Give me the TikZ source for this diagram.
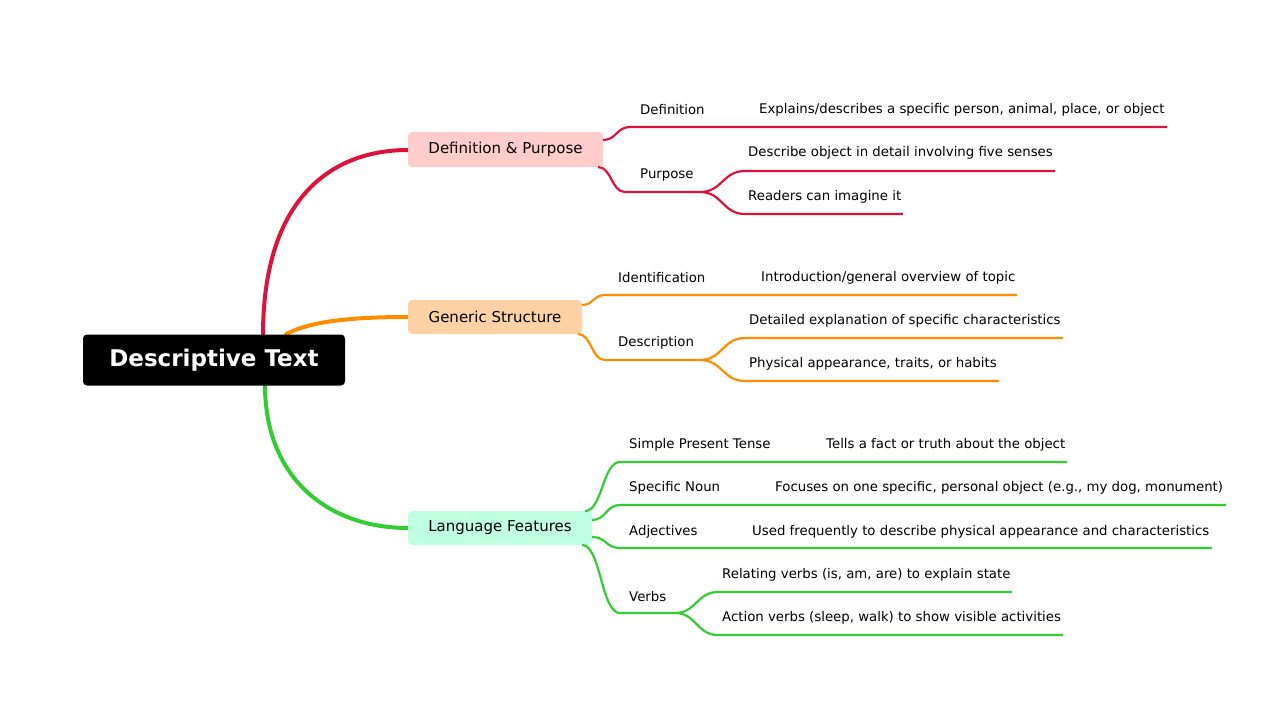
\documentclass[tikz,border=0pt]{standalone}
\usepackage{fontspec}
\setmainfont{DejaVu Sans}
\newcommand\hcv[4]{(#1,#2) .. controls ({(#1+#3)/2},#2) and ({(#1+#3)/2},#4) .. (#3,#4)}
\begin{document}
\begin{tikzpicture}[x=1pt,y=-1pt,
 lab/.style={anchor=west,inner sep=0pt,font=\fontsize{13.3}{15}\selectfont},
 box/.style={rounded corners=4pt,inner sep=0pt,font=\fontsize{15}{17}\selectfont},
 main/.style={line width=4pt},
 sub/.style={line width=2.2pt}]
\useasboundingbox (0,0) rectangle (1280,720);
\definecolor{cR}{HTML}{DC143C}\definecolor{cO}{HTML}{FF8C00}\definecolor{cG}{HTML}{32CD32}
\coordinate (r1) at (263,335);\coordinate (r2) at (285,335);\coordinate (r3) at (265,385);
\draw[main,cR] (r1) .. controls (263,200) and (330,150) .. (408,150);
\draw[main,cO] (r2) .. controls (310,320) and (360,317) .. (408,317);
\draw[main,cG] (r3) .. controls (265,480) and (330,528) .. (408,528);
\node[box,fill=black,text=white,minimum width=262pt,minimum height=51pt,font=\fontsize{23}{26}\selectfont\bfseries] (root) at (214,360) {Descriptive Text};
\node[box,fill=red!20,minimum width=195pt,minimum height=35pt] (b1) at (505.5,149.5) {Definition \& Purpose};
\node[box,fill=orange!35,minimum width=174pt,minimum height=34pt] (b2) at (495,317) {Generic Structure};
\node[box,fill=green!45!cyan!25,minimum width=184pt,minimum height=34pt] (b3) at (500,528) {Language Features};
\begin{scope}[sub,cR]
\draw \hcv{603}{140}{630}{127} -- (1167,127);
\draw \hcv{598}{167}{625}{192} -- (700,192);
\draw \hcv{700}{192}{745}{171} -- (1055,171);
\draw \hcv{700}{192}{745}{214} -- (903,214);
\end{scope}
\node[lab] (l1) at (640,110) {Definition};
\node[lab] (t1) at (759,110) {Explains/describes a specific person, animal, place, or object};
\node[lab] (l2) at (640,175) {Purpose};
\node[lab] (t2) at (748,153) {Describe object in detail involving five senses};
\node[lab] (t3) at (748,197) {Readers can imagine it};
\begin{scope}[sub,cO]
\draw \hcv{582}{305}{605}{295} -- (1017,295);
\draw \hcv{578}{334}{605}{360} -- (700,360);
\draw \hcv{700}{360}{745}{338} -- (1063,338);
\draw \hcv{700}{360}{745}{381} -- (999,381);
\end{scope}
\node[lab] (l3) at (618,278) {Identification};
\node[lab] (t4) at (761,278) {Introduction/general overview of topic};
\node[lab] (l4) at (618,343) {Description};
\node[lab] (t5) at (749,321) {Detailed explanation of specific characteristics};
\node[lab] (t6) at (749,364) {Physical appearance, traits, or habits};
\begin{scope}[sub,cG]
\draw \hcv{585}{511}{620}{462} -- (1067,462);
\draw \hcv{592}{520}{620}{505} -- (1226,505);
\draw \hcv{592}{537}{620}{548} -- (1212,548);
\draw \hcv{582}{545}{620}{613} -- (675,613);
\draw \hcv{675}{613}{718}{592} -- (1012,592);
\draw \hcv{675}{613}{718}{635} -- (1063,635);
\end{scope}
\node[lab] (l5) at (629,445) {Simple Present Tense};
\node[lab] (t7) at (826,445) {Tells a fact or truth about the object};
\node[lab] (l6) at (629,488) {Specific Noun};
\node[lab] (t8) at (775,488) {Focuses on one specific, personal object (e.g., my dog, monument)};
\node[lab] (l7) at (629,532) {Adjectives};
\node[lab] (t9) at (752,532) {Used frequently to describe physical appearance and characteristics};
\node[lab] (l8) at (629,597) {Verbs};
\node[lab] (t10) at (722,575) {Relating verbs (is, am, are) to explain state};
\node[lab] (t11) at (722,618) {Action verbs (sleep, walk) to show visible activities};
\end{tikzpicture}
\end{document}
